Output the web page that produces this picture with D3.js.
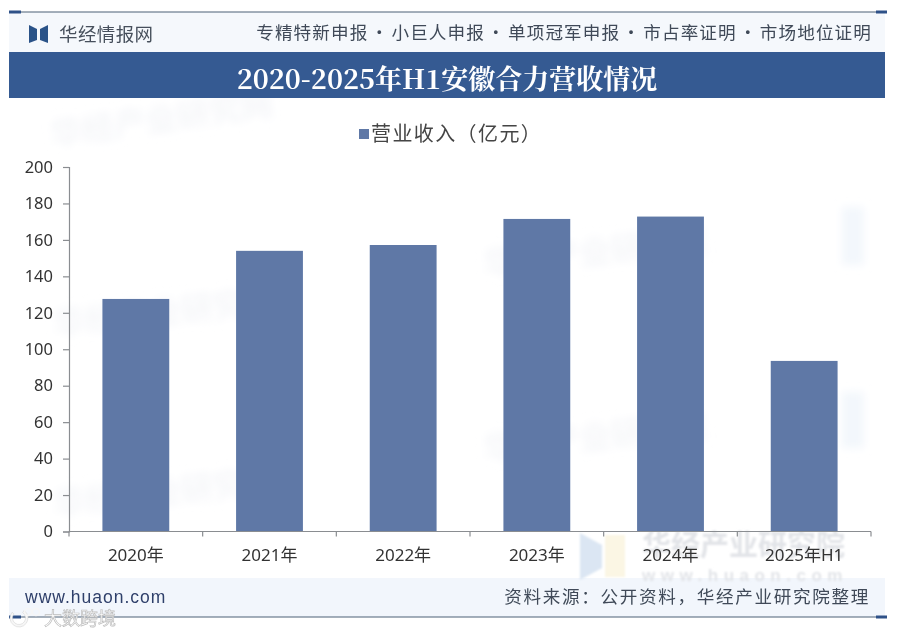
<!DOCTYPE html>
<html><head><meta charset="utf-8">
<script src="https://cdnjs.cloudflare.com/ajax/libs/d3/7.8.5/d3.min.js"></script>
<style>html,body{margin:0;padding:0;background:#fff}svg{display:block}</style></head>
<body><svg id="c" width="900" height="634"></svg>
<script>
const categories=["2020年","2021年","2022年","2023年","2024年","2025年H1"];
const revenue=[127.6,154,157.2,171.5,172.8,93.6];
const yTicks=[0,20,40,60,80,100,120,140,160,180,200];
const titleText="2020-2025年H1安徽合力营收情况";
const legendText="营业收入（亿元）";
const brandText="华经情报网";
const sloganText="专精特新申报\u200A·\u200A小巨人申报\u200A·\u200A单项冠军申报\u200A·\u200A市占率证明\u200A·\u200A市场地位证明";
const siteText="www.huaon.com";
const sourceText="资料来源：公开资料，华经产业研究院整理";

const CJK="'Noto Sans CJK SC','Noto Sans',sans-serif";
const svg=d3.select("#c");
const defs=svg.append("defs");
defs.append("filter").attr("id","soft").append("feGaussianBlur").attr("stdDeviation",0.35);
defs.append("filter").attr("id","wm").append("feGaussianBlur").attr("stdDeviation",1.2);
defs.append("filter").attr("id","wm2").attr("x","-30%").attr("y","-30%").attr("width","160%").attr("height","160%").append("feGaussianBlur").attr("stdDeviation",4);
const root=svg.append("g").attr("filter","url(#soft)");

root.append("rect").attr("width",900).attr("height",634).attr("fill","#ffffff");
// header / footer bands
root.append("rect").attr("x",9).attr("y",12).attr("width",876).attr("height",41).attr("fill","#f5f8fc");
root.append("rect").attr("x",9).attr("y",578).attr("width",876).attr("height",39).attr("fill","#f2f6fc");

// faint background watermarks
const bg=root.append("g").attr("filter","url(#wm2)");
[[52,146,-8,"华经产业研究网"],[485,275,-6,"华经产业研究院"],[55,335,-6,"华经产业研究院"],[485,460,-6,"华经产业研究院"],[55,515,-6,"华经产业研究院"]].forEach(d=>{
  bg.append("text").attr("transform",`rotate(${d[2]} ${d[0]} ${d[1]})`).attr("x",d[0]).attr("y",d[1])
    .attr("font-family",CJK).attr("font-weight",700).attr("font-size",32).attr("fill","#f5f6f9").text(d[3]);
});
bg.append("rect").attr("x",842).attr("y",207).attr("width",22).attr("height",58).attr("fill","#f3f7fc");
bg.append("rect").attr("x",842).attr("y",392).attr("width",22).attr("height",56).attr("fill","#f3f7fc");

// rules
[12,617].forEach(y=>{
  root.append("line").attr("x1",9).attr("x2",885).attr("y1",y).attr("y2",y).attr("stroke","#4d6077").attr("stroke-width",1.2);
  root.append("line").attr("x1",9).attr("x2",21).attr("y1",y).attr("y2",y).attr("stroke","#2e5188").attr("stroke-width",3);
  root.append("line").attr("x1",876).attr("x2",887).attr("y1",y).attr("y2",y).attr("stroke","#2e5188").attr("stroke-width",3);
});
// logo
const logo=root.append("g").attr("fill","#2c5288");
logo.append("path").attr("d",d3.line()([[29,25],[37,29],[37,40],[29,43]])+"Z");
logo.append("path").attr("d",d3.line()([[48,25],[40,29],[40,40],[48,43]])+"Z");
root.append("text").attr("x",59).attr("y",34).attr("dy","0.36em").attr("font-family",CJK).attr("font-size",18.5).attr("letter-spacing",0.4).attr("fill","#47505c").text(brandText);
root.append("text").attr("x",872).attr("y",33).attr("dy","0.36em").attr("text-anchor","end").attr("font-family",CJK).attr("font-size",17.6).attr("letter-spacing",1.1).attr("fill","#3f4a58").text(sloganText);
// title band
root.append("rect").attr("x",9).attr("y",52).attr("width",876).attr("height",46).attr("fill","#355a92");
root.append("text").attr("x",447).attr("y",79).attr("dy","0.36em").attr("text-anchor","middle").attr("font-family","'Noto Serif CJK SC','Liberation Serif','Noto Sans CJK SC',serif").attr("font-weight",700).attr("font-size",27).attr("fill","#ffffff").text(titleText);

// watermark behind the axis labels
const wm=root.append("g").attr("filter","url(#wm)");
wm.append("path").attr("d",d3.line()([[580,533],[602,545],[602,568],[580,580]])+"Z").attr("fill","#dbe6f3");
wm.append("rect").attr("x",605).attr("y",535).attr("width",20).attr("height",42).attr("fill","#fbf6e4");
wm.append("text").attr("x",642).attr("y",556).attr("font-family",CJK).attr("font-size",29).attr("font-weight",700).attr("fill","#e2e4e8").text("华经产业研究院");
wm.append("text").attr("x",642).attr("y",581).attr("font-family","'Liberation Sans',sans-serif").attr("font-size",17).attr("letter-spacing",5.5).attr("font-weight",700).attr("fill","#e2e4e8").text("www.huaon.com");

// chart
const x=d3.scaleBand().domain(categories).range([69,871]).paddingInner(0.5).paddingOuter(0.25);
const y=d3.scaleLinear().domain([0,200]).range([531.5,167]);
root.append("g").selectAll("rect").data(revenue).join("rect")
  .attr("x",(d,i)=>x(categories[i])).attr("width",x.bandwidth())
  .attr("y",d=>y(d)).attr("height",d=>y(0)-y(d)).attr("fill","#5e78a6");

const yAxis=d3.axisLeft(y).tickValues(yTicks).tickSize(6).tickPadding(10);
const gy=root.append("g").attr("transform","translate(69,0)").call(yAxis);
gy.selectAll("path,line").attr("stroke","#8a8d91").attr("stroke-width",1.2);
gy.selectAll("text").attr("font-family","'Noto Sans',sans-serif").attr("font-size",16.5).attr("fill","#333");

const xAxis=d3.axisBottom(x).tickSize(0).tickPadding(17);
const gx=root.append("g").attr("transform","translate(0,531.5)").call(xAxis);
gx.select("path").attr("stroke","#8a8d91").attr("stroke-width",1.2).attr("d","M69,0H871");
gx.selectAll("text").attr("font-family","'Noto Sans',"+CJK).attr("font-size",17).attr("fill","#333");
// category boundary ticks
const edges=categories.map(c=>x(c)-x.step()*0.25).concat([871]);
gx.selectAll("line.edge").data(edges).join("line").attr("class","edge")
  .attr("x1",d=>d).attr("x2",d=>d).attr("y1",0).attr("y2",5).attr("stroke","#8a8d91").attr("stroke-width",1.2);

// legend
root.append("rect").attr("x",359).attr("y",129).attr("width",10).attr("height",10).attr("fill","#5e78a6");
root.append("text").attr("x",371).attr("y",134).attr("dy","0.36em").attr("font-family",CJK).attr("font-size",20).attr("letter-spacing",1.4).attr("fill","#444").text(legendText);

// footer
root.append("text").attr("x",25).attr("y",597).attr("dy","0.36em").attr("font-family","'Liberation Sans',sans-serif").attr("font-size",17.5).attr("letter-spacing",1).attr("fill","#2f3f6a").text(siteText);
root.append("text").attr("x",870).attr("y",597).attr("dy","0.36em").attr("text-anchor","end").attr("font-family",CJK).attr("font-size",17.6).attr("letter-spacing",1.65).attr("fill","#3f4a58").text(sourceText);
// platform mark
root.append("text").attr("x",44).attr("y",619).attr("dy","0.36em").attr("font-family",CJK).attr("font-size",18).attr("fill","#ffffff").attr("stroke","#bdbdbd").attr("stroke-width",0.7).text("大数跨境");
root.append("path").attr("d",d3.arc()({innerRadius:6.5,outerRadius:9,startAngle:0.6,endAngle:5.4})).attr("transform","translate(19,618)").attr("fill","#f6f6f6").attr("stroke","#c4c4c4").attr("stroke-width",0.4);
[[28,612],[36,612]].forEach(p=>root.append("circle").attr("cx",p[0]).attr("cy",p[1]).attr("r",3.5).attr("fill","none").attr("stroke","#f6f6f6").attr("stroke-width",1.5));
</script></body></html>
